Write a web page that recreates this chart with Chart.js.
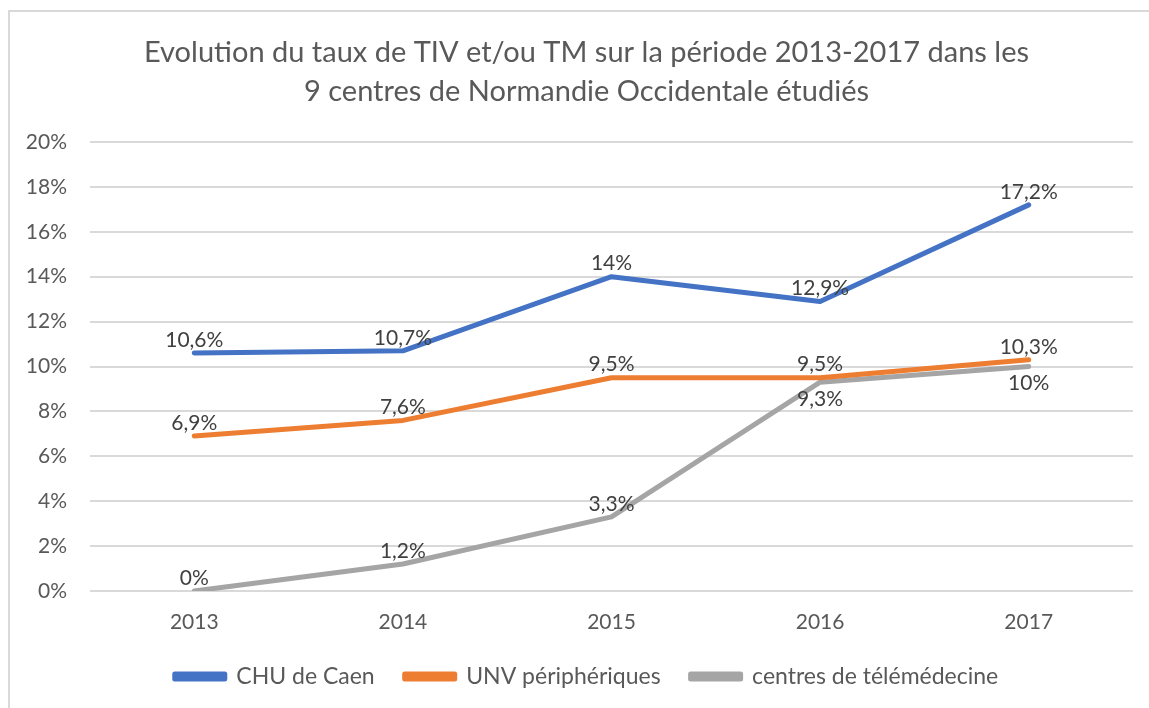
<!DOCTYPE html>
<html>
<head>
<meta charset="utf-8">
<script src="https://cdn.jsdelivr.net/npm/chart.js@4.4.1/dist/chart.umd.min.js"></script>
<style>
  html, body { margin: 0; padding: 0; background: #fff; overflow: hidden; }
  #frame { position: absolute; left: 8px; top: 10px; width: 1200px; height: 800px;
           border-left: 2px solid #d9d9d9; border-top: 2px solid #d9d9d9; }
  #wrap { position: absolute; left: 0; top: 0; width: 1149px; height: 708px; }
</style>
</head>
<body>
<div id="frame"></div>
<div id="wrap"><canvas id="taux"></canvas></div>
<script>
var years = ["2013", "2014", "2015", "2016", "2017"];
var chuCaen = [10.6, 10.7, 14, 12.9, 17.2];
var unvPeripheriques = [6.9, 7.6, 9.5, 9.5, 10.3];
var centresTelemedecine = [0, 1.2, 3.3, 9.3, 10];
var yTicks = [0, 2, 4, 6, 8, 10, 12, 14, 16, 18, 20];

// where each value label sits: "above" or "below" the point
var labelSide = [
  ["above", "above", "above", "above", "above"],
  ["above", "above", "above", "above", "above"],
  ["above", "above", "above", "below", "below"]
];

var grey = "#595959";
var font = "Lato";

function frNumber(v) {
  return String(v).replace(".", ",") + "%";
}

// small home-made datalabels
var valueLabels = {
  id: "valueLabels",
  afterDatasetsDraw: function (chart) {
    var ctx = chart.ctx;
    ctx.save();
    ctx.font = "21px " + font;
    ctx.fillStyle = "#404040";
    ctx.textAlign = "center";
    ctx.textBaseline = "middle";
    chart.data.datasets.forEach(function (ds, i) {
      chart.getDatasetMeta(i).data.forEach(function (pt, j) {
        var dy = labelSide[i][j] === "below" ? 17 : -13;
        ctx.fillText(frNumber(ds.data[j]), pt.x, pt.y + dy);
      });
    });
    ctx.restore();
  }
};

var ctx = document.getElementById("taux");

new Chart(ctx, {
  type: "line",
  data: {
    labels: years,
    datasets: [
      {
        label: "CHU de Caen",
        data: chuCaen,
        borderColor: "#4472C4",
        backgroundColor: "#4472C4",
      },
      {
        label: "UNV périphériques",
        data: unvPeripheriques,
        borderColor: "#ED7D31",
        backgroundColor: "#ED7D31",
      },
      {
        label: "centres de télémédecine",
        data: centresTelemedecine,
        borderColor: "#A5A5A5",
        backgroundColor: "#A5A5A5",
      },
    ],
  },
  options: {
    responsive: true,
    maintainAspectRatio: false,
    animation: false,
    elements: {
      line: { borderWidth: 5, tension: 0, borderCapStyle: "round", borderJoinStyle: "round" },
      point: { radius: 0, hoverRadius: 0 },
    },
    layout: { padding: { left: 24, right: 0, top: 0, bottom: 10 } },
    scales: {
      x: {
        offset: true,
        afterFit: function (axis) { axis.height = 44; },
        grid: { display: false, drawTicks: false },
        border: { display: false },
        ticks: { color: grey, font: { family: font, size: 21 }, padding: 19 },
      },
      y: {
        min: 0,
        max: 20,
        afterBuildTicks: function (axis) {
          axis.ticks = yTicks.map(function (v) { return { value: v }; });
        },
        afterFit: function (axis) { axis.width = 66; },
        grid: { color: "#d9d9d9", lineWidth: 2, drawTicks: false },
        border: { display: false },
        ticks: {
          color: grey,
          font: { family: font, size: 21 },
          padding: 23,
          callback: function (v) { return v + "%"; },
        },
      },
      // empty right-hand strip so the plot stops short of the edge
      yRight: {
        position: "right",
        min: 0,
        max: 20,
        afterFit: function (axis) { axis.width = 16; },
        grid: { display: false, drawTicks: false },
        border: { display: false },
        ticks: { display: false },
      },
    },
    plugins: {
      title: {
        display: true,
        text: [
          "Evolution du taux de TIV et/ou TM sur la période 2013-2017 dans les",
          "9 centres de Normandie Occidentale étudiés",
        ],
        color: grey,
        font: { family: font, size: 29, weight: "normal", lineHeight: 1.345 },
        padding: { top: 33, bottom: 31 },
      },
      legend: {
        position: "bottom",
        labels: {
          color: grey,
          font: { family: font, size: 23 },
          boxWidth: 50,
          boxHeight: 5,
          padding: 30,
        },
      },
      tooltip: { enabled: false },
    },
  },
  plugins: [valueLabels],
});
</script>
</body>
</html>
